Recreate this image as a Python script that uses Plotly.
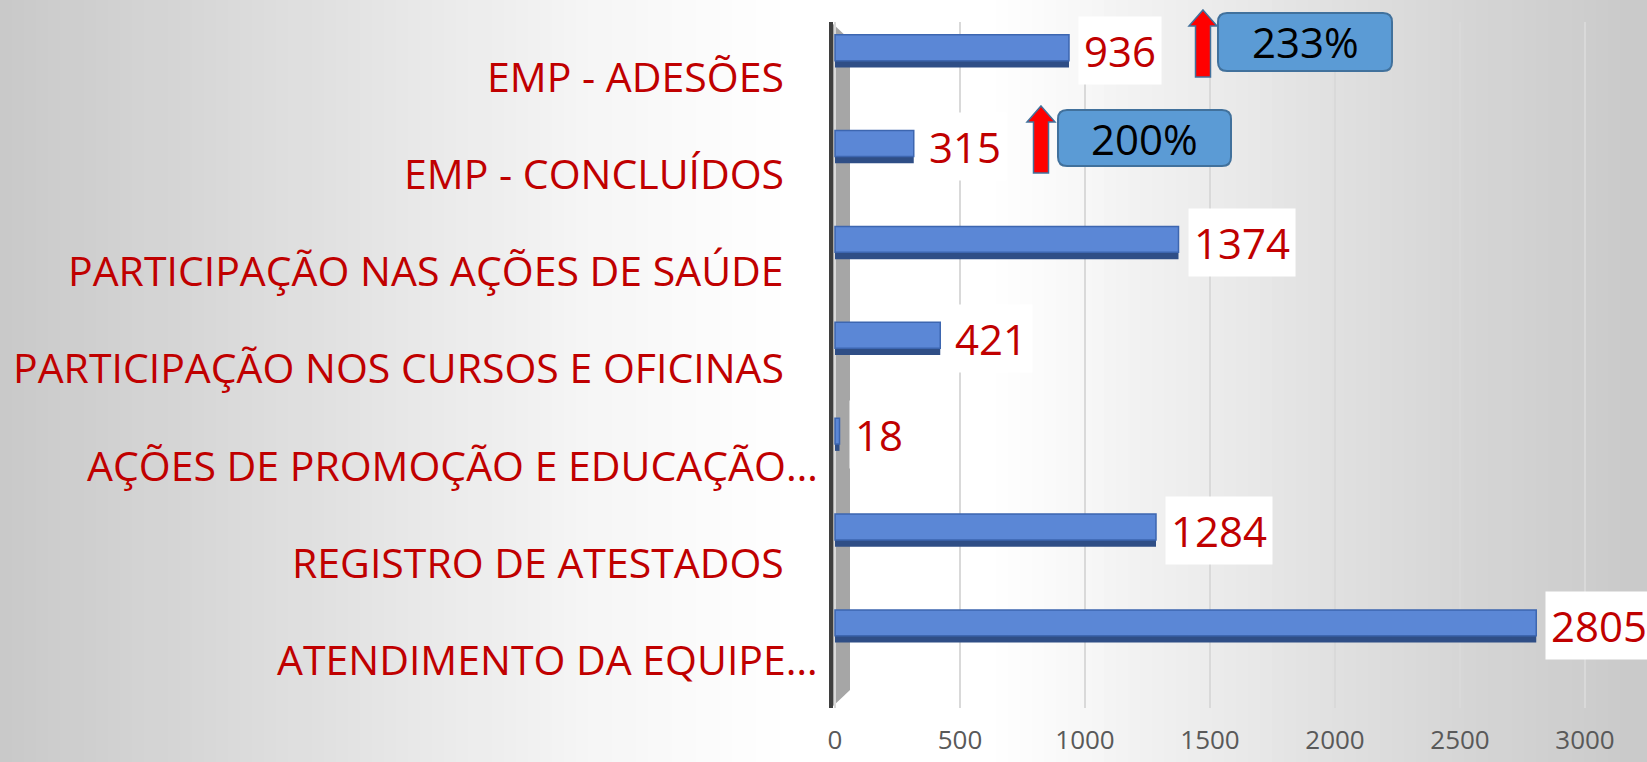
import plotly.graph_objects as go

# data, top to bottom as in the chart
categories = [
    "EMP - ADESÕES",
    "EMP - CONCLUÍDOS",
    "PARTICIPAÇÃO NAS AÇÕES DE SAÚDE",
    "PARTICIPAÇÃO NOS CURSOS E OFICINAS",
    "AÇÕES DE PROMOÇÃO E EDUCAÇÃO…",
    "REGISTRO DE ATESTADOS",
    "ATENDIMENTO DA EQUIPE…",
]
values = [936, 315, 1374, 421, 18, 1284, 2805]
growth_labels = ["233%", "200%"]   # for the two EMP rows
x_ticks = [0, 500, 1000, 1500, 2000, 2500, 3000]

W, H = 1647, 762
L, R, T, B = 830, 1600, 22, 708   # plot area in page pixels
RED = "#c00000"
FONT = "Open Sans"


def px(x):
    return (x - L) / (R - L)


def py(y):
    return (B - y) / (B - T)


shapes = []

# grey-white-grey background made of thin strips
stops = [(0, 201), (200, 215), (400, 231), (600, 246), (790, 255), (990, 255),
         (1150, 241), (1350, 223), (1500, 211), (1647, 201)]
step = 12
for x0 in range(0, W, step):
    xc = x0 + step / 2
    for (a, ga), (b, gb) in zip(stops[:-1], stops[1:]):
        if a <= xc <= b:
            g = round(ga + (gb - ga) * (xc - a) / (b - a))
            break
    shapes.append(dict(type="rect", xref="paper", yref="paper",
                       x0=px(x0), x1=px(min(x0 + step + 1, W)), y0=py(H + 20), y1=py(-20),
                       fillcolor=f"rgb({g},{g},{g})", line_width=0, layer="below"))

# left wall of the 3d chart
shapes.append(dict(type="path", xref="paper", yref="paper", layer="below",
                   path=f"M {px(831)},{py(22)} L {px(850)},{py(40)} L {px(850)},{py(690)} "
                        f"L {px(831)},{py(708)} Z",
                   fillcolor="#a6a6a6", line_width=0))
shapes.append(dict(type="line", xref="paper", yref="paper", layer="above",
                   x0=px(831), x1=px(831), y0=py(22), y1=py(708),
                   line=dict(color="#3f3f3f", width=4)))


def rounded_box(x0, y0, x1, y1, r=9):
    p = (f"M {px(x0 + r)},{py(y0)} L {px(x1 - r)},{py(y0)} Q {px(x1)},{py(y0)} {px(x1)},{py(y0 + r)} "
         f"L {px(x1)},{py(y1 - r)} Q {px(x1)},{py(y1)} {px(x1 - r)},{py(y1)} "
         f"L {px(x0 + r)},{py(y1)} Q {px(x0)},{py(y1)} {px(x0)},{py(y1 - r)} "
         f"L {px(x0)},{py(y0 + r)} Q {px(x0)},{py(y0)} {px(x0 + r)},{py(y0)} Z")
    return dict(type="path", xref="paper", yref="paper", path=p,
                fillcolor="#5b9bd5", line=dict(color="#41719c", width=2))


def up_arrow(cx, tip, base, bottom, head=14, shaft=7.5):
    p = (f"M {px(cx)},{py(tip)} L {px(cx + head)},{py(base)} L {px(cx + shaft)},{py(base)} "
         f"L {px(cx + shaft)},{py(bottom)} L {px(cx - shaft)},{py(bottom)} "
         f"L {px(cx - shaft)},{py(base)} L {px(cx - head)},{py(base)} Z")
    return dict(type="path", xref="paper", yref="paper", path=p,
                fillcolor="#ff0000", line=dict(color="#41719c", width=1.5))


# callouts: (box x0, y0, x1, y1), (arrow cx, tip, head base, bottom)
callouts = [((1218, 13, 1392, 71), (1203, 10, 26, 77)),
            ((1058, 110, 1231, 166), (1041, 106, 122, 173))]

annotations = []
for (box, arrow), txt in zip(callouts, growth_labels):
    shapes.append(rounded_box(*box))
    shapes.append(up_arrow(*arrow))
    annotations.append(dict(xref="paper", yref="paper",
                            x=px((box[0] + box[2]) / 2), y=py((box[1] + box[3]) / 2),
                            text=txt, showarrow=False, xanchor="center", yanchor="middle",
                            font=dict(family=FONT, size=42, color="black")))

# value labels in white boxes
for cat, v in zip(categories, values):
    annotations.append(dict(x=v, y=cat, xref="x", yref="y", text=str(v), showarrow=False,
                            xanchor="left", yanchor="middle", xshift=9,
                            bgcolor="white", borderpad=5,
                            font=dict(family=FONT, size=42, color=RED)))

# category labels: the 3d perspective puts them below the bars, a bit more further down
for i, cat in enumerate(categories):
    annotations.append(dict(x=0, y=cat, xref="paper", yref="y", text=cat, showarrow=False,
                            xanchor="right", yanchor="middle",
                            xshift=-10 if cat.endswith("…") else -44,
                            yshift=-(24.8 + 1.44 * i),
                            font=dict(family=FONT, size=41, color=RED)))

fig = go.Figure()
# dark underside of each bar
fig.add_trace(go.Bar(x=values, y=categories, orientation="h",
                     width=0.31, offset=-0.136,
                     marker=dict(color="#2f4e86", line=dict(width=0)),
                     hoverinfo="skip"))
# front face
fig.add_trace(go.Bar(x=values, y=categories, orientation="h",
                     width=0.27, offset=-0.167,
                     marker=dict(color="#5b87d6", line=dict(color="#3d66b0", width=1.5)),
                     hoverinfo="skip"))

fig.update_layout(
    width=W, height=H,
    margin=dict(l=L, r=W - R, t=T, b=H - B),
    barmode="overlay",
    showlegend=False,
    paper_bgcolor="#d0d0d0",
    plot_bgcolor="rgba(0,0,0,0)",
    shapes=shapes,
    annotations=annotations,
    xaxis=dict(range=[-20, 3060], tickvals=x_ticks, showgrid=True, automargin=False,
               gridcolor="#d9d9d9", gridwidth=1.5, zeroline=False, showline=False,
               ticks="", ticklabelstandoff=14,
               tickfont=dict(family=FONT, size=26, color="#595959")),
    yaxis=dict(type="category", categoryorder="array", categoryarray=categories,
               range=[6.856, -0.3], showticklabels=False, showgrid=False, automargin=False,
               zeroline=False, showline=False, ticks=""),
)

# the page's default body margin would push the figure 8px off the corner
fig.write_html("out.html", config={"displayModeBar": False},
               post_script="document.body.style.margin = '0';")
